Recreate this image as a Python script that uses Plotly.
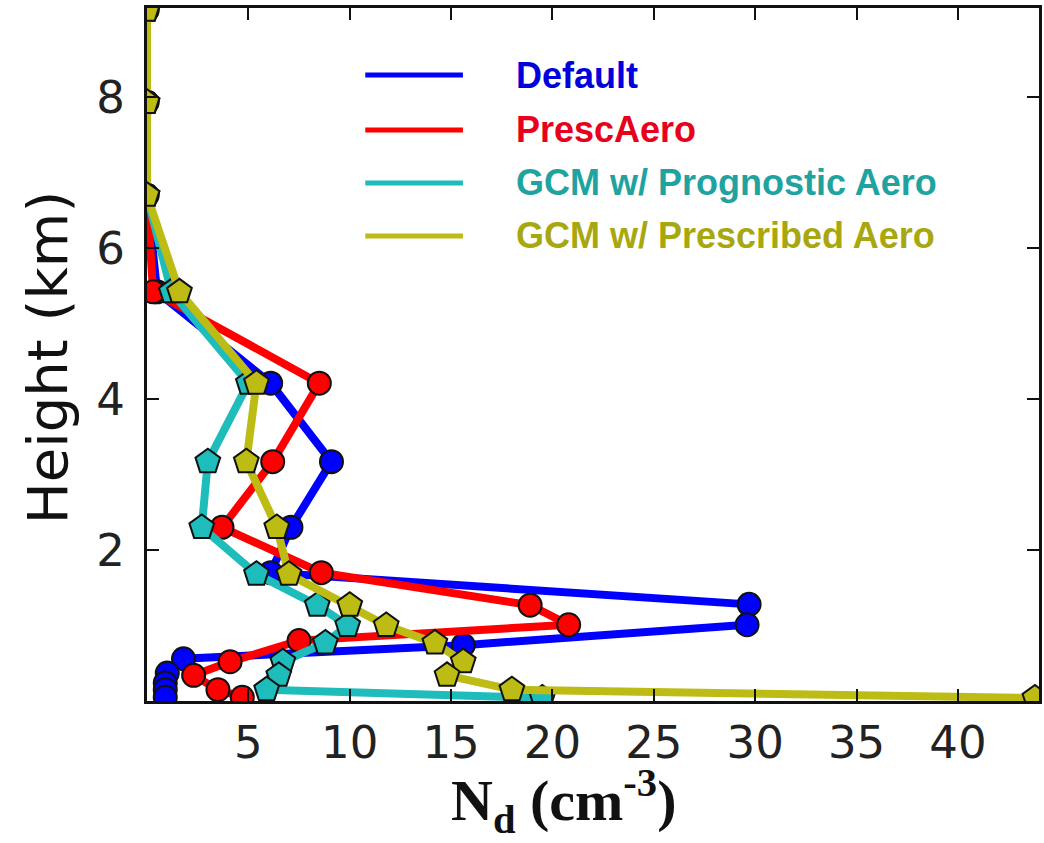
import plotly.graph_objects as go

# Droplet number concentration profiles (cm^-3) versus height (km)
default_nd = [0, 0, 0, 0.5, 6.1, 9.1, 7.1, 6.1, 29.7, 29.6, 15.6, 1.8, 1.0, 0.9, 0.9, 0.9]
default_z = [9.15, 7.93, 6.70, 5.42, 4.21, 3.17, 2.30, 1.70, 1.28, 1.01, 0.74, 0.56, 0.37, 0.24, 0.15, 0.05]

presc_nd = [0, 0, 0, 0.3, 8.5, 6.2, 3.7, 8.6, 18.9, 20.8, 7.5, 4.1, 2.3, 3.5, 4.7]
presc_z = [9.15, 7.93, 6.70, 5.42, 4.21, 3.17, 2.30, 1.70, 1.27, 1.01, 0.80, 0.52, 0.34, 0.15, 0.05]

gcm_prog_nd = [0, 0, 0, 1.2, 5.0, 3.0, 2.7, 5.4, 8.4, 9.9, 8.8, 6.7, 6.5, 5.9, 19.5]
gcm_prog_z = [9.15, 7.93, 6.70, 5.42, 4.21, 3.17, 2.30, 1.68, 1.27, 1.00, 0.77, 0.52, 0.34, 0.15, 0.04]

gcm_presc_nd = [0, 0, 0, 1.6, 5.4, 4.9, 6.4, 7.0, 10.0, 11.8, 14.2, 15.6, 14.8, 18.0, 43.8]
gcm_presc_z = [9.15, 7.93, 6.70, 5.42, 4.21, 3.17, 2.30, 1.68, 1.27, 1.00, 0.77, 0.52, 0.34, 0.15, 0.04]

series_names = ["Default", "PrescAero", "GCM w/ Prognostic Aero", "GCM w/ Prescribed Aero"]
series_colors = ["#0000ff", "#ff0000", "#1fbcbc", "#bcbc14"]
legend_text_colors = ["#0000dd", "#e8001c", "#1fa3a0", "#a8a80e"]
series_symbols = ["circle", "circle", "pentagon", "pentagon"]

x_ticks = [5, 10, 15, 20, 25, 30, 35, 40]
x_tick_labels = ["5", "10", "15", "20", "25", "30", "35", "40"]
y_ticks = [2, 4, 6, 8]
y_tick_labels = ["2", "4", "6", "8"]

profiles = [
    (default_nd, default_z),
    (presc_nd, presc_z),
    (gcm_prog_nd, gcm_prog_z),
    (gcm_presc_nd, gcm_presc_z),
]

fig = go.Figure()
for (nd, z), name, color, sym in zip(profiles, series_names, series_colors, series_symbols):
    fig.add_trace(go.Scatter(
        x=nd, y=z, name=name, mode="lines+markers",
        line=dict(color=color, width=8),
        marker=dict(symbol=sym, size=23 if sym == "circle" else 26, color=color,
                    line=dict(color="#111111", width=2)),
        showlegend=False, cliponaxis=True,
    ))

# Plot area in pixels (used to place the hand-drawn legend and titles)
W, H = 1044, 843
L, R, T, B = 147, 1042, 8, 701
pw, ph = R - L, B - T


def px_x(p):
    return (p - L) / pw


def px_y(p):
    return (B - p) / ph


# Legend: line samples plus coloured bold labels
legend_rows = [75, 130, 183, 236]
shapes = []
annotations = []
for row, color, tcolor, name in zip(legend_rows, series_colors, legend_text_colors, series_names):
    shapes.append(dict(type="line", xref="paper", yref="paper",
                       x0=px_x(366), x1=px_x(464), y0=px_y(row), y1=px_y(row),
                       line=dict(color=color, width=5)))
    annotations.append(dict(xref="paper", yref="paper", x=px_x(515), y=px_y(row),
                            xanchor="left", yanchor="middle", showarrow=False,
                            text="<b>" + name + "</b>",
                            font=dict(family="Liberation Sans, Arial", size=36, color=tcolor)))

annotations.append(dict(xref="paper", yref="paper", x=px_x(47), y=px_y(357),
                        xanchor="center", yanchor="middle", showarrow=False,
                        text="Height (km)", textangle=-90,
                        font=dict(family="DejaVu Sans", size=56, color="#111111")))
annotations.append(dict(xref="paper", yref="paper", x=px_x(565), y=px_y(801),
                        xanchor="center", yanchor="middle", showarrow=False,
                        text="<b>N<sub>d</sub> (cm<sup>-3</sup>)</b>",
                        font=dict(family="Liberation Serif, Times New Roman", size=58, color="#111111")))

axis_common = dict(showline=True, linecolor="#111111", linewidth=3, mirror="ticks",
                   ticks="inside", ticklen=12, tickwidth=2, tickcolor="#111111",
                   showgrid=False, zeroline=False,
                   tickfont=dict(family="DejaVu Sans", size=45, color="#222222"))

fig.update_layout(
    width=W, height=H, autosize=False,
    margin=dict(l=L, r=W - R, t=T, b=H - B, pad=0),
    paper_bgcolor="white", plot_bgcolor="white",
    xaxis=dict(range=[0, 44], tickvals=x_ticks, ticktext=x_tick_labels,
               ticklabelstandoff=0, **axis_common),
    yaxis=dict(range=[0, 9.18], tickvals=y_ticks, ticktext=y_tick_labels,
               ticklabelstandoff=10, **axis_common),
    shapes=shapes, annotations=annotations,
)

fig.write_html("out.html")
